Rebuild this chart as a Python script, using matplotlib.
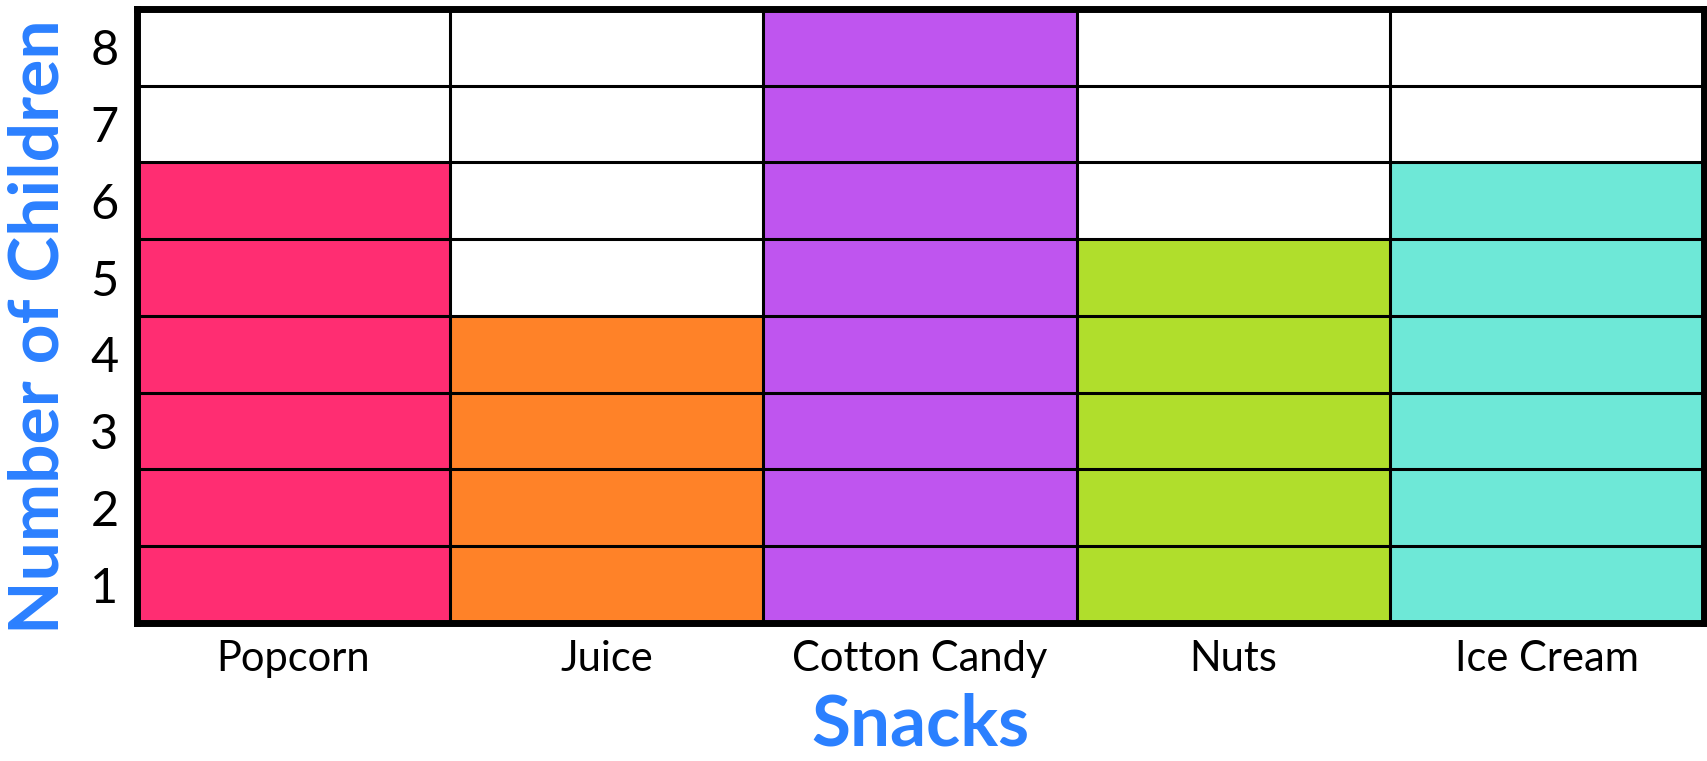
import matplotlib
matplotlib.use("Agg")
import matplotlib.pyplot as plt

# snack survey data
snacks = ["Popcorn", "Juice", "Cotton Candy", "Nuts", "Ice Cream"]
children = [6, 4, 8, 5, 6]
bar_colors = ["#FF2D72", "#FF8228", "#BF55EF", "#B0DE2C", "#6EE8D7"]
y_labels = ["1", "2", "3", "4", "5", "6", "7", "8"]

plt.rcParams["font.family"] = ["Lato", "DejaVu Sans"]
blue = "#2B80FF"

fig = plt.figure(figsize=(17.07, 7.61), dpi=100)
ax = fig.add_axes([0.080, 0.1813, 0.918, 0.807])

x = range(len(snacks))
ax.bar(x, children, width=1.0, color=bar_colors, edgecolor="none", zorder=1)

# grid of cells
for i in range(1, len(y_labels)):
    ax.axhline(i, color="black", lw=2.2, zorder=2)
for i in range(1, len(snacks)):
    ax.axvline(i - 0.5, color="black", lw=2.2, zorder=2)

ax.set_xlim(-0.5, len(snacks) - 0.5)
ax.set_ylim(0, len(y_labels))

ax.set_xticks(list(x))
ax.set_xticklabels(snacks, fontsize=30)
ax.set_yticks([i + 0.5 for i in range(len(y_labels))])
ax.set_yticklabels(y_labels, fontsize=35)
ax.tick_params(axis="both", length=0)
ax.tick_params(axis="x", pad=12)
ax.tick_params(axis="y", pad=13)

for s in ax.spines.values():
    s.set_linewidth(5)
    s.set_zorder(3)

ax.set_xlabel("Snacks", fontsize=51, fontweight="bold", color=blue, labelpad=11)
ax.set_ylabel("Number of Children", fontsize=50, fontweight="bold", color=blue)
ax.yaxis.set_label_coords(-0.042, 0.482)

fig.savefig("out.png", dpi=100, facecolor="white")
